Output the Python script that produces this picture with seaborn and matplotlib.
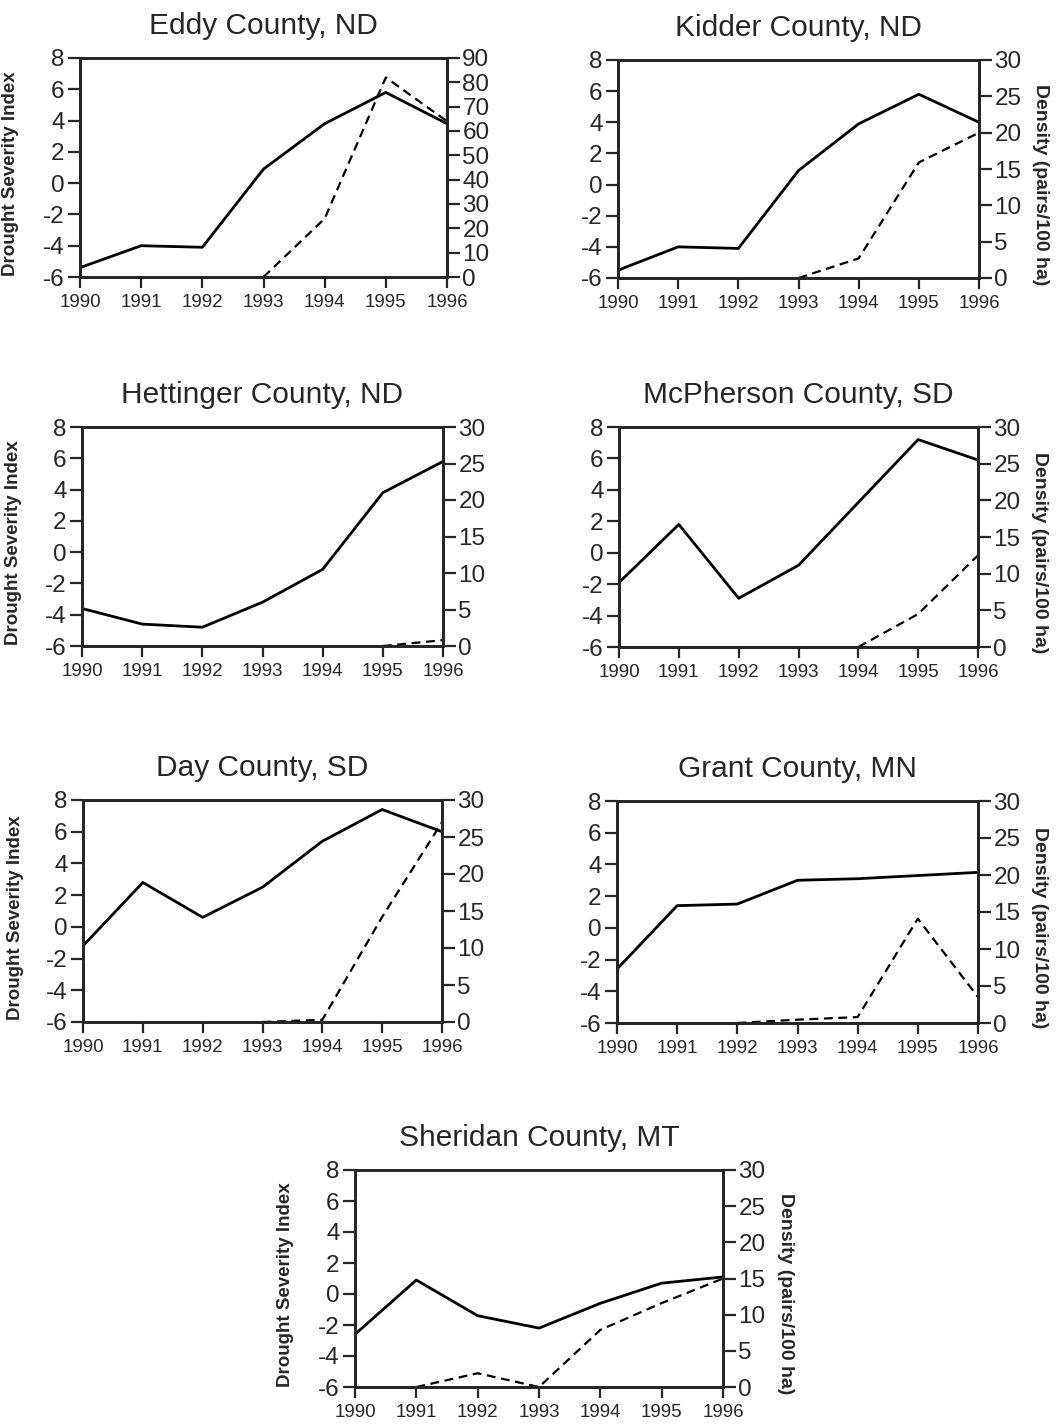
import numpy as np
import pandas as pd
import matplotlib
matplotlib.use('Agg')
import matplotlib.pyplot as plt
import seaborn as sns

years = [1990, 1991, 1992, 1993, 1994, 1995, 1996]

counties = ['Eddy County, ND', 'Kidder County, ND', 'Hettinger County, ND',
            'McPherson County, SD', 'Day County, SD', 'Grant County, MN',
            'Sheridan County, MT']

# drought severity index (left axis)
dsi_eddy = [-5.4, -4.0, -4.1, 0.9, 3.8, 5.8, 3.8]
dsi_kidder = [-5.5, -4.0, -4.1, 0.9, 3.9, 5.8, 4.0]
dsi_hettinger = [-3.6, -4.6, -4.8, -3.2, -1.1, 3.8, 5.8]
dsi_mcpherson = [-1.9, 1.8, -2.9, -0.8, 3.2, 7.2, 5.9]
dsi_day = [-1.2, 2.8, 0.6, 2.5, 5.4, 7.4, 6.0]
dsi_grant = [-2.6, 1.4, 1.5, 3.0, 3.1, 3.3, 3.5]
dsi_sheridan = [-2.6, 0.9, -1.4, -2.2, -0.6, 0.7, 1.1]

# density, pairs/100 ha (right axis); None = not drawn
dens_eddy = [None, None, None, 0, 24, 82, 64]
dens_kidder = [None, None, None, 0, 2.7, 15.9, 20.0]
dens_hettinger = [None, None, None, None, None, 0, 0.8]
dens_mcpherson = [None, None, None, None, 0, 4.5, 12.5]
dens_day = [None, None, None, 0, 0.3, 14.2, 27.0]
dens_grant = [None, None, 0, 0.45, 0.8, 14.1, 3.5]
dens_sheridan = [None, 0, 1.9, 0, 7.9, 11.6, 15.0]

dsi_all = [dsi_eddy, dsi_kidder, dsi_hettinger, dsi_mcpherson, dsi_day, dsi_grant, dsi_sheridan]
dens_all = [dens_eddy, dens_kidder, dens_hettinger, dens_mcpherson, dens_day, dens_grant, dens_sheridan]

dens_max = [90, 30, 30, 30, 30, 30, 30]
dens_step = [10, 5, 5, 5, 5, 5, 5]
left_label = [True, False, True, False, True, False, True]
right_label = [False, True, False, True, False, True, True]

# axes boxes in pixels: left, top, right, bottom
W, H = 1058, 1426
boxes = [
    (80, 58, 447, 277),
    (618, 60, 979, 278),
    (82, 427, 443, 646),
    (619, 427, 978, 647),
    (83, 800, 442, 1022),
    (617, 801, 978, 1023),
    (355, 1170, 723, 1387),
]

sns.set_style('ticks')
plt.rcParams['font.family'] = ['Liberation Sans', 'DejaVu Sans']
plt.rcParams['axes.unicode_minus'] = False

fig = plt.figure(figsize=(W / 100, H / 100), dpi=100)

for i, name in enumerate(counties):
    l, t, r, b = boxes[i]
    ax = fig.add_axes([l / W, 1 - b / H, (r - l) / W, (b - t) / H])
    df = pd.DataFrame({'year': years, 'dsi': dsi_all[i],
                       'dens': [np.nan if v is None else v for v in dens_all[i]]})

    sns.lineplot(data=df, x='year', y='dsi', ax=ax, color='black', lw=2.0)
    ax.set_xlim(1990, 1996)
    ax.set_ylim(-6, 8)
    ax.set_yticks(range(-6, 9, 2))
    ax.set_xticks(years)
    ax.set_xlabel('')
    ax.set_ylabel('Drought Severity Index' if left_label[i] else '',
                  fontsize=13.5, fontweight='bold')
    ax.yaxis.set_label_coords(-0.165, 0.47)
    ax.tick_params(axis='y', labelsize=17.5, length=9, width=1.6, pad=2)
    ax.tick_params(axis='x', labelsize=13.5, length=8, width=1.6, pad=4)
    ax.set_title(name, fontsize=21.5, pad=17)

    ax2 = ax.twinx()
    d = df.dropna(subset=['dens'])
    sns.lineplot(data=d, x='year', y='dens', ax=ax2, color='black', lw=1.6,
                 linestyle=(0, (4, 2.5)))
    ax2.set_ylim(0, dens_max[i])
    ax2.set_yticks(range(0, dens_max[i] + 1, dens_step[i]))
    ax2.set_xlim(1990, 1996)
    ax2.tick_params(axis='y', labelsize=17.5, length=9, width=1.6, pad=2)
    ax2.set_ylabel('Density (pairs/100 ha)' if right_label[i] else '',
                   fontsize=14, fontweight='bold', rotation=270, va='center')
    ax2.yaxis.set_label_coords(1.17, 0.43)

    for a in (ax, ax2):
        for s in a.spines.values():
            s.set_linewidth(2.0)
            s.set_visible(True)

fig.savefig('out.png', dpi=100)
